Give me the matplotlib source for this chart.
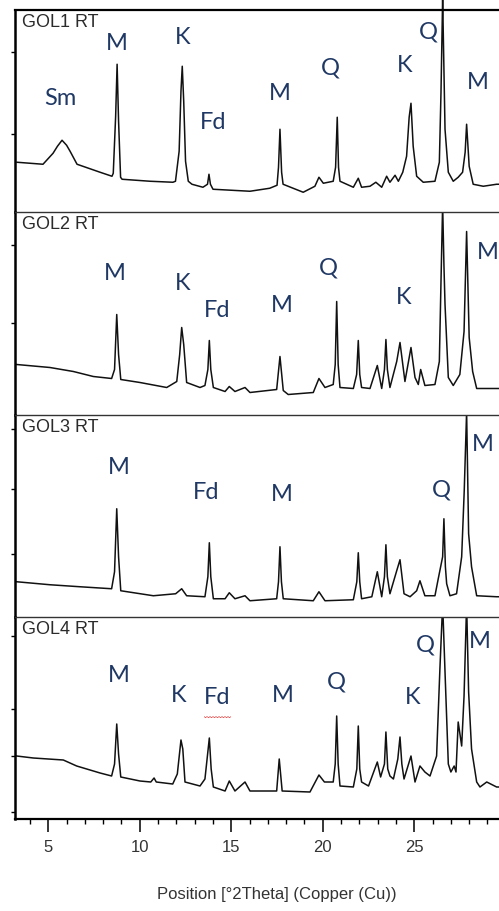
import matplotlib
matplotlib.use("Agg")
import matplotlib.pyplot as plt
from matplotlib.ticker import MultipleLocator

# XRD patterns: (position [deg 2theta], relative intensity)
gol1 = [(3.29, 50), (4.71, 48), (5.26, 59), (5.5, 66), (5.75, 72), (6.0, 67), (6.19, 61),
        (6.57, 48), (7.83, 40), (8.48, 36), (8.55, 39), (8.68, 96), (8.76, 148), (8.84, 91),
        (8.95, 35), (9.03, 33), (10.56, 31), (11.81, 30), (11.95, 31), (12.15, 61),
        (12.25, 121), (12.32, 146), (12.40, 111), (12.50, 51), (12.65, 31), (12.85, 28),
        (13.45, 25), (13.70, 28), (13.78, 38), (13.86, 28), (14.0, 23), (16.02, 21),
        (17.1, 24), (17.5, 27), (17.58, 45), (17.66, 83), (17.75, 40), (17.83, 28), (18.93, 20),
        (19.57, 26), (19.79, 35), (20.03, 29), (20.57, 31), (20.70, 45), (20.79, 95),
        (20.86, 45), (20.94, 31), (21.67, 25), (21.94, 34), (22.12, 25), (22.58, 26),
        (22.9, 30), (23.22, 25), (23.49, 36), (23.67, 30), (23.95, 37), (24.13, 31),
        (24.37, 40), (24.58, 56), (24.72, 95), (24.82, 109), (24.94, 66), (25.13, 36),
        (25.49, 30), (26.13, 31), (26.37, 50), (26.46, 120), (26.55, 214), (26.68, 83),
        (26.86, 40), (27.13, 31), (27.4, 35), (27.64, 40), (27.78, 60), (27.86, 88),
        (28.0, 46), (28.22, 28), (28.77, 26), (29.5, 28), (29.7, 28)]

gol2 = [(3.27, 50), (5.09, 47), (6.37, 43), (7.46, 38), (8.46, 36), (8.62, 45), (8.74, 100),
        (8.84, 60), (8.96, 35), (10.01, 32), (11.47, 27), (12.02, 33), (12.18, 60),
        (12.29, 87), (12.40, 70), (12.56, 32), (13.29, 27), (13.56, 29), (13.72, 45),
        (13.80, 74), (13.88, 45), (14.02, 27), (14.66, 23), (14.89, 28), (15.2, 23),
        (15.75, 27), (16.02, 22), (17.48, 25), (17.66, 58), (17.84, 24), (18.11, 20),
        (19.48, 22), (19.79, 36), (20.12, 27), (20.57, 30), (20.68, 50), (20.76, 113),
        (20.84, 50), (20.94, 27), (21.67, 26), (21.85, 40), (21.94, 74), (22.02, 40),
        (22.12, 27), (22.58, 26), (22.98, 49), (23.22, 26), (23.37, 45), (23.45, 75),
        (23.53, 45), (23.67, 27), (24.04, 53), (24.22, 72), (24.49, 33), (24.82, 67),
        (25.04, 37), (25.22, 30), (25.35, 45), (25.58, 29), (26.13, 30), (26.37, 53),
        (26.46, 133), (26.55, 210), (26.62, 150), (26.68, 110), (26.86, 37), (27.13, 29),
        (27.49, 40), (27.72, 83), (27.80, 140), (27.86, 183), (27.93, 130), (28.0, 77),
        (28.19, 43), (28.41, 26), (29.5, 26), (29.7, 26)]

gol3 = [(3.27, 35), (5.09, 32), (6.73, 30), (8.46, 28), (8.62, 45), (8.74, 108), (8.84, 60),
        (8.96, 26), (10.74, 21), (11.96, 23), (12.29, 28), (12.56, 21), (13.56, 20),
        (13.72, 40), (13.80, 74), (13.88, 40), (14.02, 18), (14.66, 18), (14.89, 24),
        (15.2, 18), (15.75, 21), (16.02, 16), (17.48, 18), (17.58, 35), (17.66, 70),
        (17.74, 35), (17.84, 18), (19.48, 16), (19.79, 25), (20.12, 16), (21.67, 17),
        (21.86, 35), (21.94, 64), (22.02, 35), (22.12, 18), (22.68, 20), (22.98, 45),
        (23.22, 20), (23.37, 40), (23.45, 72), (23.53, 40), (23.67, 23), (24.04, 46),
        (24.22, 57), (24.44, 23), (24.77, 20), (25.13, 26), (25.31, 36), (25.58, 21),
        (26.13, 21), (26.31, 38), (26.55, 60), (26.62, 98), (26.70, 50), (26.77, 33),
        (26.95, 21), (27.31, 23), (27.59, 60), (27.73, 126), (27.86, 205), (27.97, 83),
        (28.13, 50), (28.41, 21), (29.5, 20), (29.7, 20)]

gol4 = [(3.27, 63), (4.18, 61), (5.82, 59), (6.55, 53), (7.83, 46), (8.46, 43), (8.62, 55),
        (8.74, 95), (8.84, 65), (8.96, 42), (10.01, 38), (10.6, 37), (10.78, 41), (10.9, 37),
        (11.8, 35), (12.05, 45), (12.25, 79), (12.35, 70), (12.47, 37), (13.29, 33),
        (13.56, 40), (13.80, 81), (13.90, 50), (14.02, 32), (14.66, 28), (14.89, 38),
        (15.2, 28), (15.75, 37), (16.02, 28), (17.48, 28), (17.62, 60), (17.78, 28),
        (19.3, 27), (19.79, 44), (20.09, 37), (20.57, 37), (20.68, 55), (20.76, 103),
        (20.84, 55), (20.94, 33), (21.67, 32), (21.86, 50), (21.94, 93), (22.02, 50),
        (22.12, 37), (22.5, 33), (22.98, 57), (23.16, 42), (23.37, 55), (23.45, 87),
        (23.55, 50), (23.67, 43), (23.86, 40), (24.1, 60), (24.22, 82), (24.32, 55),
        (24.44, 40), (24.82, 63), (25.04, 37), (25.31, 53), (25.58, 47), (25.86, 43),
        (26.22, 63), (26.4, 150), (26.55, 215), (26.68, 147), (26.86, 55), (27.0, 47),
        (27.18, 53), (27.28, 47), (27.4, 97), (27.59, 73), (27.72, 123), (27.86, 215),
        (27.97, 127), (28.13, 70), (28.41, 37), (28.59, 32), (28.96, 37), (29.5, 32),
        (29.7, 32)]

sampleNames = ["GOL1 RT", "GOL2 RT", "GOL3 RT", "GOL4 RT"]

# mineral labels: (text, position [deg 2theta], height)
gol1Labels = [("Sm", 5.64, 115), ("M", 8.76, 170), ("K", 12.36, 176), ("Fd", 14.0, 91),
              ("M", 17.66, 120), ("Q", 20.39, 145), ("K", 24.49, 148), ("Q", 25.75, 181),
              ("M", 28.48, 131)]
gol2Labels = [("M", 8.65, 142), ("K", 12.36, 132), ("Fd", 14.22, 105), ("M", 17.77, 110),
              ("Q", 20.28, 148), ("K", 24.43, 118), ("M", 29.0, 163)]
gol3Labels = [("M", 8.87, 150), ("Fd", 13.62, 125), ("M", 17.77, 123), ("Q", 26.46, 128),
              ("M", 28.76, 173)]
gol4Labels = [("M", 8.87, 145), ("K", 12.14, 125), ("Fd", 14.22, 122), ("M", 17.82, 125),
              ("Q", 20.77, 138), ("K", 24.93, 122), ("Q", 25.58, 175), ("M", 28.59, 178)]

# unlabelled intensity ticks on the left axis of each panel
yTicks = [[78, 160], [92, 170], [63, 128, 188], [7, 63, 110, 183]]
xTicks = [5, 10, 15, 20, 25]
xLimits = (3.18, 29.63)
xLabel = "Position [\u00b02Theta] (Copper (Cu))"

patterns = [gol1, gol2, gol3, gol4]
labelSets = [gol1Labels, gol2Labels, gol3Labels, gol4Labels]

figW, figH = 499, 912
topPx, bottomPx, leftPx = 11, 820, 15
panelH = (bottomPx - topPx) / 4.0
labelColor = '#1F3864'

fig = plt.figure(figsize=(figW / 100.0, figH / 100.0), dpi=100)

for i in range(4):
    y0 = 1 - (topPx + (i + 1) * panelH) / figH
    ax = fig.add_axes([leftPx / float(figW), y0, 1 - leftPx / float(figW), panelH / figH])
    xs = [p[0] for p in patterns[i]]
    ys = [p[1] for p in patterns[i]]
    # the strongest quartz reflection in the top panel runs past the frame
    ax.plot(xs, ys, color='#111111', lw=1.1, clip_on=(i != 0))
    ax.set_xlim(xLimits)
    ax.set_ylim(0, panelH)

    ax.spines['right'].set_visible(False)
    ax.spines['left'].set_linewidth(1.8)
    if i == 0:
        ax.spines['top'].set_linewidth(1.6)
    else:
        ax.spines['top'].set_linewidth(1.0)
        ax.spines['top'].set_color('#333333')
    if i == 3:
        ax.spines['bottom'].set_linewidth(1.6)
    else:
        ax.spines['bottom'].set_visible(False)

    ax.set_yticks(yTicks[i])
    ax.tick_params(axis='y', direction='out', length=3, width=1.0, labelleft=False)

    if i == 3:
        ax.set_xticks(xTicks)
        ax.xaxis.set_minor_locator(MultipleLocator(1))
        ax.tick_params(axis='x', which='major', direction='out', length=9.4, width=1.1,
                       pad=5, labelsize=12, labelcolor='#333333')
        ax.tick_params(axis='x', which='minor', direction='out', length=3.6, width=1.0)
        for t in ax.get_xticklabels():
            t.set_family('Liberation Sans')
    else:
        ax.tick_params(axis='x', which='both', bottom=False, labelbottom=False)

    ax.text(0.0145, 1 - 3.0 / panelH, sampleNames[i], transform=ax.transAxes,
            ha='left', va='top', fontsize=13, color='#2b2b2b', family='Liberation Sans')
    for txt, pos, h in labelSets[i]:
        ax.text(pos, h, txt, ha='center', va='center', fontsize=17, color=labelColor,
                family='Lato')
        # spell-check squiggle under the "Fd" of the last panel
        if i == 3 and txt == 'Fd':
            ax.text(pos, h - 17, '\ufe4f\ufe4f\ufe4f', ha='center', va='center', fontsize=6.5,
                    color='#e03030', family='Noto Sans CJK JP')

fig.text(277.0 / figW, 1 - 895.0 / figH, xLabel, ha='center', va='center', fontsize=12,
         color='#333333', family='Liberation Sans')

fig.savefig('out.png', dpi=100)
